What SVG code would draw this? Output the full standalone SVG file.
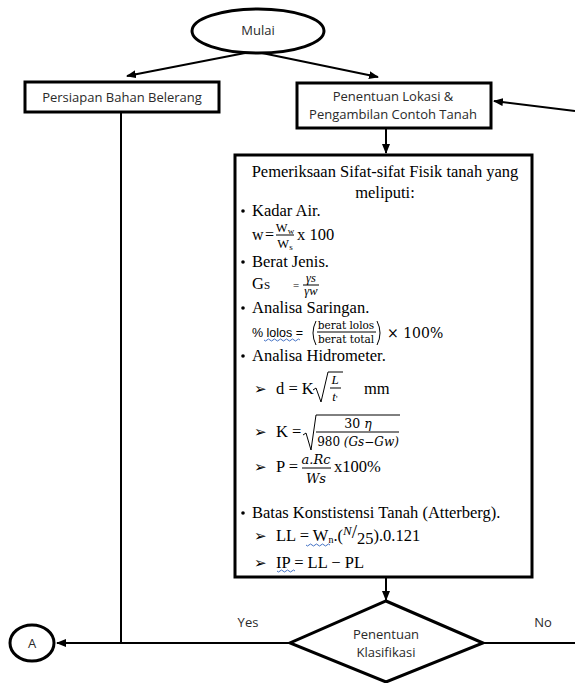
<svg xmlns="http://www.w3.org/2000/svg" width="575" height="683" viewBox="0 0 575 683">
<defs>
<marker id="ah" markerWidth="10" markerHeight="8" refX="9" refY="4" orient="auto" markerUnits="userSpaceOnUse">
<path d="M0,0 L10,4 L0,8 Z" fill="#000"/>
</marker>
</defs>
<style>
.sh{fill:#fff;stroke:#000;stroke-width:3}
.sans{font-family:"Open Sans","DejaVu Sans",sans-serif;font-size:13px;fill:#2a2a2a}
.ser{font-family:"Liberation Serif","Times New Roman",serif;fill:#000}
.mth{font-family:"DejaVu Serif","Liberation Serif",serif;fill:#000}
.cal{font-family:"Liberation Sans",Arial,sans-serif;fill:#000}
.it{font-style:italic}
.ln{stroke:#000;stroke-width:2;fill:none}
.fl{stroke:#000;stroke-width:1}
.rt{stroke:#000;stroke-width:1;fill:none}
.wv{stroke:#4472c4;stroke-width:1;fill:none}
</style>
<rect width="575" height="683" fill="#fff"/>
<g id="connectors">
<line class="ln" x1="245" y1="53" x2="127" y2="76" marker-end="url(#ah)"/>
<line class="ln" x1="262" y1="53" x2="378" y2="77" marker-end="url(#ah)"/>
<line class="ln" x1="575" y1="111" x2="494" y2="101" marker-end="url(#ah)"/>
<line class="ln" x1="386" y1="129" x2="386" y2="153" marker-end="url(#ah)"/>
<line class="ln" x1="121" y1="112" x2="121" y2="643"/>
<line class="ln" x1="386" y1="578" x2="386" y2="600" marker-end="url(#ah)"/>
<line class="ln" x1="290" y1="643" x2="57" y2="643" marker-end="url(#ah)"/>
<line class="ln" x1="483" y1="643" x2="575" y2="643"/>
<text class="sans" x="248" y="627" text-anchor="middle">Yes</text>
<text class="sans" x="543" y="627" text-anchor="middle">No</text>
</g>
<g id="mulai">
<ellipse class="sh" cx="258" cy="31" rx="66" ry="22"/>
<text class="sans" x="258" y="35" text-anchor="middle">Mulai</text>
</g>
<g id="persiapan">
<rect class="sh" x="25" y="82" width="194" height="30"/>
<text class="sans" x="122" y="102" text-anchor="middle">Persiapan Bahan Belerang</text>
</g>
<g id="penentuan-lokasi">
<rect class="sh" x="297" y="83" width="194" height="45"/>
<text class="sans" x="393" y="101" text-anchor="middle">Penentuan Lokasi &amp;</text>
<text class="sans" x="393" y="119" text-anchor="middle">Pengambilan Contoh Tanah</text>
</g>
<g id="pemeriksaan" font-size="16.5">
<rect class="sh" x="235" y="155" width="297" height="422"/>
<text class="ser" x="385" y="177" text-anchor="middle">Pemeriksaan Sifat-sifat Fisik tanah yang</text>
<text class="ser" x="385" y="198" text-anchor="middle">meliputi:</text>
<circle cx="243" cy="211" r="1.8" fill="#000"/>
<text class="ser" x="252" y="216">Kadar Air.</text>
<text class="ser" x="252" y="240" font-size="16">w</text>
<text class="ser" x="265" y="240" font-size="16">=</text>
<text class="ser" x="285" y="232" font-size="12.5" text-anchor="middle">W<tspan font-size="9" dy="2">w</tspan></text>
<line class="fl" x1="276" y1="235" x2="294" y2="235"/>
<text class="ser" x="285" y="248" font-size="12.5" text-anchor="middle">W<tspan font-size="9" dy="2">s</tspan></text>
<text class="ser" x="297" y="240">x 100</text>
<circle cx="243" cy="262" r="1.8" fill="#000"/>
<text class="ser" x="252" y="267">Berat Jenis.</text>
<text class="ser" x="252" y="289">G<tspan font-size="11">S</tspan></text>
<text class="ser" x="293" y="289" font-size="11">=</text>
<text class="ser it" x="311" y="282" font-size="12.5" text-anchor="middle">γs</text>
<line class="fl" x1="303" y1="285" x2="319" y2="285"/>
<text class="ser it" x="311" y="295" font-size="12.5" text-anchor="middle">γw</text>
<circle cx="243" cy="308" r="1.8" fill="#000"/>
<text class="ser" x="252" y="313">Analisa Saringan.</text>
<text class="cal" x="252" y="337" font-size="12.5">% lolos =</text>
<path class="wv" d="M264,340 q1.5,2 3,0 t3,0 t3,0 t3,0 t3,0 t3,0 t3,0 t3,0 t3,0 t3,0 t3,0 t3,0"/>
<path class="rt" d="M316,321 q-6,12 0,24"/>
<text class="mth" x="346" y="329" font-size="10.5" text-anchor="middle">berat lolos</text>
<line class="fl" x1="317" y1="332" x2="376" y2="332"/>
<text class="mth" x="346" y="343" font-size="10.5" text-anchor="middle">berat total</text>
<path class="rt" d="M377,321 q6,12 0,24"/>
<text class="mth" x="387" y="338" font-size="14">× 100%</text>
<circle cx="243" cy="356" r="1.8" fill="#000"/>
<text class="ser" x="252" y="361">Analisa Hidrometer.</text>
<text class="ser" x="254" y="394" font-size="15">➢</text>
<text class="ser" x="276" y="394">d = K</text>
<path class="rt" d="M313,390 l3,-2 l5,14 l7,-30 h15"/>
<text class="ser it" x="335" y="384" font-size="13" text-anchor="middle">L</text>
<line class="fl" x1="330" y1="388" x2="341" y2="388"/>
<text class="ser it" x="335" y="401" font-size="13" text-anchor="middle">t<tspan font-size="8" dy="-4">,</tspan></text>
<text class="ser" x="364" y="394">mm</text>
<text class="ser" x="254" y="437" font-size="15">➢</text>
<text class="ser" x="276" y="437">K =</text>
<path class="rt" d="M303,435 l3,-2 l5,17 l5,-35 h84"/>
<text class="mth" x="358" y="428" font-size="12.5" text-anchor="middle">30 <tspan class="it">η</tspan></text>
<line class="fl" x1="316" y1="432" x2="399" y2="432"/>
<text class="mth" x="358" y="446" font-size="12" text-anchor="middle">980 <tspan class="it">(Gs−Gw)</tspan></text>
<text class="ser" x="254" y="472" font-size="15">➢</text>
<text class="ser" x="276" y="472">P =</text>
<text class="mth it" x="316" y="464" font-size="13" text-anchor="middle">a.Rc</text>
<line class="fl" x1="302" y1="468" x2="331" y2="468"/>
<text class="mth it" x="316" y="483" font-size="13" text-anchor="middle">Ws</text>
<text class="ser" x="334" y="472">x100%</text>
<circle cx="243" cy="513" r="1.8" fill="#000"/>
<text class="ser" x="252" y="518">Batas Konstistensi Tanah (Atterberg).</text>
<text class="ser" x="254" y="541" font-size="15">➢</text>
<text class="ser" x="276" y="541">LL = W<tspan font-size="10" dy="2">n</tspan><tspan dy="-2">.(</tspan><tspan class="it" font-size="13" dy="-6">N</tspan><tspan font-size="19" dy="3">/</tspan><tspan dy="6">25</tspan><tspan dy="-3">).0.121</tspan></text>
<path class="wv" d="M306,545 q1.5,2 3,0 t3,0 t3,0 t3,0 t3,0 t3,0 t3,0 t3,0"/>
<text class="ser" x="254" y="568" font-size="15">➢</text>
<text class="ser" x="276" y="568">IP = LL − PL</text>
<path class="wv" d="M277,571 q1.5,2 3,0 t3,0 t3,0 t3,0 t3,0 t3,0"/>
</g>
<g id="klasifikasi">
<polygon class="sh" points="386,601 483,643 386,682 290,643"/>
<text class="sans" x="386" y="639" text-anchor="middle">Penentuan</text>
<text class="sans" x="386" y="657" text-anchor="middle">Klasifikasi</text>
</g>
<g id="a">
<ellipse class="sh" cx="32" cy="643" rx="22" ry="18" stroke-width="2"/>
<text class="sans" x="32" y="648" text-anchor="middle">A</text>
</g>
</svg>
